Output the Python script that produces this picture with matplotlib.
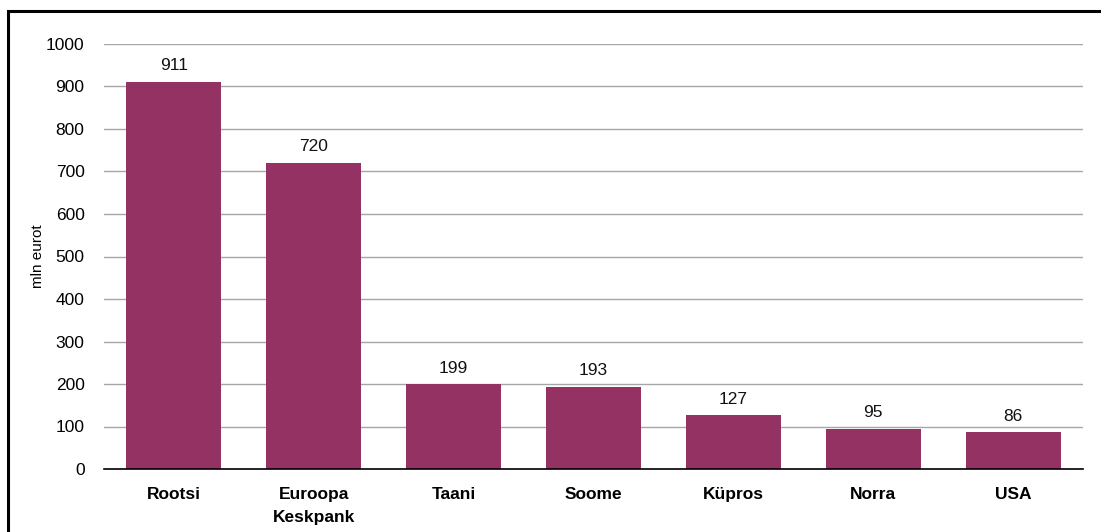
import matplotlib
matplotlib.use("Agg")
import matplotlib.pyplot as plt
from matplotlib.patches import Rectangle

categories = ["Rootsi", "Euroopa\nKeskpank", "Taani", "Soome", "Küpros", "Norra", "USA"]
values = [911, 720, 199, 193, 127, 95, 86]
yticks = [0, 100, 200, 300, 400, 500, 600, 700, 800, 900, 1000]

plt.rcParams['font.family'] = ['Liberation Sans', 'DejaVu Sans']

W, H = 1101, 532
fig = plt.figure(figsize=(W/100, H/100), dpi=100)
ax = fig.add_axes([104/W, 1-469/H, (1083-104)/W, (469-44)/H])

x = list(range(len(categories)))
bars = ax.bar(x, values, width=0.68, color="#943363", zorder=3)
for xi, v in zip(x, values):
    ax.text(xi, v + 20, str(v), ha="center", va="bottom", fontsize=12.5, color="#111111")

ax.set_xlim(-0.5, len(categories) - 0.5)
ax.set_ylim(0, 1000)
ax.set_yticks(yticks)
ax.set_yticklabels([str(t) for t in yticks], fontsize=12.5)
ax.set_xticks(x)
ax.set_xticklabels(categories, fontsize=12.5, fontweight="bold", linespacing=1.65)
ax.tick_params(axis="both", length=0)
ax.tick_params(axis="y", pad=14)
ax.tick_params(axis="x", pad=13)
ax.yaxis.grid(True, color="#a6a6a6", linewidth=1, zorder=0)
for s in ["top", "right", "left"]:
    ax.spines[s].set_visible(False)
ax.spines["bottom"].set_color("black")
ax.spines["bottom"].set_linewidth(1.2)
ax.spines["bottom"].set_zorder(4)
ax.set_ylabel("mln eurot", fontsize=11)
ax.yaxis.set_label_coords(-0.06, 0.5)

fig.patches.append(Rectangle((8/W, -0.1), 1.2, 1 - 11/H + 0.1, transform=fig.transFigure,
                             fill=False, edgecolor="black", linewidth=2.2))

fig.savefig("out.png", dpi=100)
